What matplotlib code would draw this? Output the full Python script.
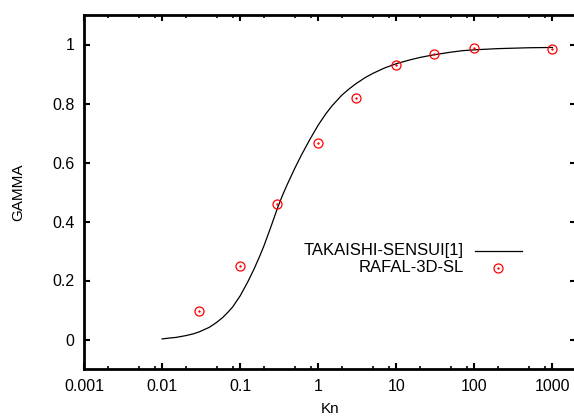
import matplotlib
matplotlib.use("Agg")
import matplotlib.pyplot as plt
from matplotlib.ticker import LogLocator, NullFormatter

plt.rcParams['font.family'] = ['Liberation Sans', 'DejaVu Sans']

# Theory curve
curve_kn = [0.01, 0.0125, 0.015, 0.02, 0.025, 0.03, 0.04, 0.05, 0.06, 0.07, 0.08, 0.1,
            0.125, 0.15, 0.175, 0.2, 0.25, 0.3, 0.35, 0.4, 0.5, 0.6, 0.7, 0.8, 1,
            1.25, 1.5, 2, 2.5, 3, 4, 5, 7, 10, 15, 20, 30, 50, 70, 100, 200, 500, 1000]
curve_gamma = [0.002, 0.005, 0.007, 0.013, 0.019, 0.026, 0.041, 0.058, 0.075, 0.093, 0.11,
               0.148, 0.195, 0.238, 0.278, 0.315, 0.385, 0.445, 0.49, 0.525, 0.58, 0.622,
               0.655, 0.683, 0.727, 0.765, 0.792, 0.828, 0.85, 0.866, 0.888, 0.902, 0.92,
               0.935, 0.948, 0.956, 0.965, 0.974, 0.979, 0.982, 0.986, 0.989, 0.99]

# Simulation points
sim_kn = [0.03, 0.1, 0.3, 1, 3, 10, 30, 100, 1000]
sim_gamma = [0.098, 0.25, 0.458, 0.665, 0.817, 0.93, 0.967, 0.987, 0.985]

xticks = [0.001, 0.01, 0.1, 1, 10, 100, 1000]
xticklabels = ['0.001', '0.01', '0.1', '1', '10', '100', '1000']
yticks = [0, 0.2, 0.4, 0.6, 0.8, 1]
yticklabels = ['0', '0.2', '0.4', '0.6', '0.8', '1']

fig = plt.figure(figsize=(5.74, 4.17), dpi=100)
ax = fig.add_axes([84/574, 1 - 369/417, (576-84)/574, (369-15)/417])

ax.plot(curve_kn, curve_gamma, color='black', lw=0.9)
ax.plot(sim_kn, sim_gamma, linestyle='none', marker='o', ms=6.5, mfc='none',
        mec='#ff0000', mew=0.9)
ax.plot(sim_kn, sim_gamma, linestyle='none', marker='o', ms=1.2, mfc='#ff0000',
        mec='#ff0000', mew=0.4)

ax.set_xscale('log')
ax.set_xlim(0.001, 2000)
ax.set_ylim(-0.1, 1.1)
ax.set_xticks(xticks)
ax.set_xticklabels(xticklabels)
ax.xaxis.set_minor_locator(LogLocator(base=10, subs=[2, 5, 8], numticks=20))
ax.xaxis.set_minor_formatter(NullFormatter())
ax.set_yticks(yticks)
ax.set_yticklabels(yticklabels)

for s in ax.spines.values():
    s.set_linewidth(2.0)
ax.spines['right'].set_visible(False)
ax.tick_params(which='major', direction='in', length=4.5, width=1.5, labelsize=11.5,
               top=True, right=True, pad=7)
ax.tick_params(which='minor', direction='in', length=2.2, width=1.2, top=True, right=True)

ax.set_xlabel('Kn', fontsize=11, labelpad=6)
ax.set_ylabel('GAMMA', fontsize=11, labelpad=19)

# legend (gnuplot style, text right-aligned)
fs = 12
W = 576 - 84
H = 369 - 15
row1 = 1 - (251 - 15) / H
row2 = 1 - (268 - 15) / H
ax.text((464 - 84) / W, row1, 'TAKAISHI-SENSUI[1]', transform=ax.transAxes,
        ha='right', va='center', fontsize=fs)
ax.text((464 - 84) / W, row2, 'RAFAL-3D-SL', transform=ax.transAxes,
        ha='right', va='center', fontsize=fs)
ax.plot([(475 - 84) / W, (522 - 84) / W], [row1, row1], transform=ax.transAxes,
        color='black', lw=0.9)
ax.plot([(498 - 84) / W], [row2], transform=ax.transAxes,
        marker='o', ms=6.5, mfc='none', mec='#ff0000', mew=0.9)
ax.plot([(498 - 84) / W], [row2], transform=ax.transAxes,
        marker='o', ms=1.2, mfc='#ff0000', mec='#ff0000', mew=0.4)

fig.savefig('out.png', dpi=100)
